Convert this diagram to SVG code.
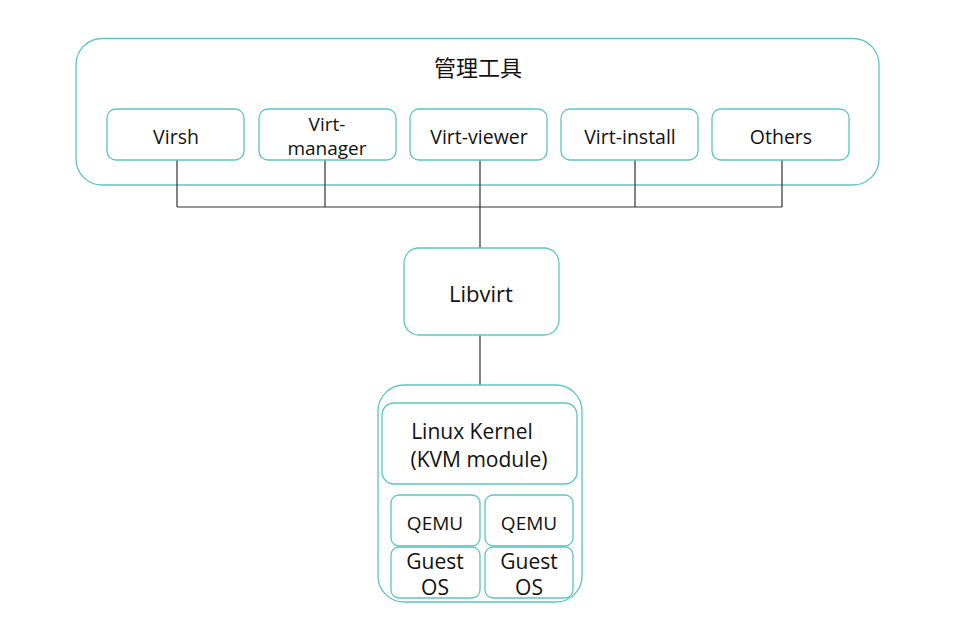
<svg xmlns="http://www.w3.org/2000/svg" width="977" height="634" viewBox="0 0 977 634">
<style>
.box{fill:#fff;stroke:#5cc5c1;stroke-width:1.3}
.t{font-family:"Open Sans","Noto Sans","Noto Sans CJK SC",sans-serif;fill:#111;text-anchor:middle}
.c{stroke:#333;stroke-width:1.2;fill:none}
</style>
<rect width="977" height="634" fill="#fff"/>
<g id="mgmt">
<rect class="box" x="76" y="38.500" width="803" height="146.500" rx="26"/>
<text class="t" x="478" y="76" font-size="22">管理工具</text>
</g>
<g id="connectors">
<path class="c" d="M177,160V207M325,160V207M480,160V248M635,160V207M782,160V207M177,207H782"/>
<path class="c" d="M480,335V403M440,484V495M529,484V495"/>
</g>
<g id="virsh"><rect class="box" x="107" y="109" width="137" height="51" rx="9"/><text class="t" x="176" y="144" font-size="19.500">Virsh</text></g>
<g id="virt-manager"><rect class="box" x="259" y="109" width="137" height="51" rx="9"/><text class="t" x="327" y="131" font-size="19">Virt-</text><text class="t" x="327" y="155" font-size="19">manager</text></g>
<g id="virt-viewer"><rect class="box" x="410" y="109" width="137" height="51" rx="9"/><text class="t" x="479" y="144" font-size="19.500">Virt-viewer</text></g>
<g id="virt-install"><rect class="box" x="561" y="109" width="137" height="51" rx="9"/><text class="t" x="630" y="144" font-size="19.500">Virt-install</text></g>
<g id="others"><rect class="box" x="712" y="109" width="137" height="51" rx="9"/><text class="t" x="781" y="144" font-size="19.500">Others</text></g>
<g id="libvirt"><rect class="box" x="404" y="248" width="155" height="87" rx="15"/><text class="t" x="481" y="302" font-size="22">Libvirt</text></g>
<g id="kvm-host">
<rect class="box" x="378" y="385" width="204" height="217" rx="26"/>
</g>
<g id="kernel"><rect class="box" x="382" y="403" width="195" height="81" rx="12"/><text class="t" x="472" y="439" font-size="21">Linux Kernel</text><text class="t" x="479" y="467" font-size="21">(KVM module)</text></g>
<g id="qemu1"><rect class="box" x="391" y="495" width="89" height="51" rx="8"/><text class="t" x="435" y="530" font-size="19">QEMU</text></g>
<g id="qemu2"><rect class="box" x="485" y="495" width="88" height="51" rx="8"/><text class="t" x="529" y="530" font-size="19">QEMU</text></g>
<g id="guest1"><rect class="box" x="391" y="547" width="89" height="51" rx="8"/><text class="t" x="435" y="569" font-size="21">Guest</text><text class="t" x="435" y="595" font-size="21">OS</text></g>
<g id="guest2"><rect class="box" x="485" y="547" width="88" height="51" rx="8"/><text class="t" x="529" y="569" font-size="21">Guest</text><text class="t" x="529" y="595" font-size="21">OS</text></g>
</svg>
